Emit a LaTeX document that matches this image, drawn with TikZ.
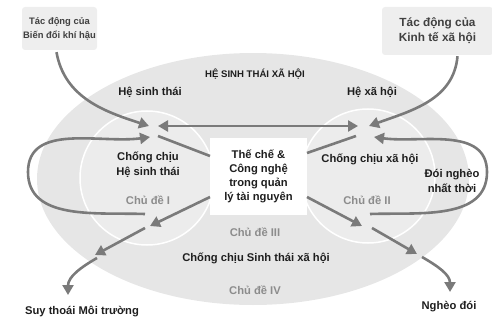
\documentclass[tikz,border=0pt]{standalone}
\usepackage{fontspec}
\setmainfont{Liberation Sans}
\usetikzlibrary{arrows.meta}
\definecolor{arrgray}{HTML}{7A7A7A}
\definecolor{outergray}{HTML}{E6E6E6}
\definecolor{innergray}{HTML}{ECECEC}
\definecolor{boxgray}{HTML}{EEEEEE}
\definecolor{themegray}{HTML}{8C8C8C}
\definecolor{txt}{HTML}{1E1E1E}
\begin{document}
\begin{tikzpicture}[x=1pt, y=-1pt, every node/.style={font=\bfseries\fontsize{11.2}{15}\selectfont, text=txt, align=center, inner sep=0pt},
	arr/.style={draw=arrgray, line width=2.6pt, -{Triangle[length=10pt,width=11pt]}},
	ln/.style={draw=arrgray, line width=2.6pt},
	theme/.style={text=themegray},
	impact/.style={fill=boxgray, rounded corners=3pt, text=txt!85}]
	
	\useasboundingbox (0,0) rectangle (492,326);
	
	\fill[outergray] (253,179) ellipse [x radius=216pt, y radius=126pt];
	\draw[white, line width=1.5pt, fill=innergray] (147,178) circle [radius=67pt];
	\draw[white, line width=1.5pt, fill=innergray] (368,176) circle [radius=67pt];
	
	\node[impact, minimum width=75pt, minimum height=43pt, font=\bfseries\fontsize{9.4}{14}\selectfont] (cc) at (59.5,28.5) {Tác động của\\Biến đổi khí hậu};
	\node[impact, minimum width=111pt, minimum height=48pt, font=\bfseries\fontsize{11.8}{15}\selectfont] (ec) at (437.5,31) {Tác động của\\Kinh tế xã hội};
	
	\node[fill=white, minimum width=97pt, minimum height=77pt, font=\bfseries\fontsize{11.2}{14}\selectfont] (inst) at (258.5,176.5) {Thế chế \&\\Công nghệ\\trong quản\\lý tài nguyên};
	
	\node[font=\bfseries\fontsize{9.6}{11}\selectfont] (ses) at (255,74) {HỆ SINH THÁI XÃ HỘI};
	\node (eco) at (150,92) {Hệ sinh thái};
	\node (soc) at (372,92) {Hệ xã hội};
	\node (reseco) at (148,165) {Chống chịu\\Hệ sinh thái};
	\node (ressoc) at (370,159) {Chống chịu xã hội};
	\node (tpov) at (452,181) {Đói nghèo\\nhất thời};
	\node[theme] (t1) at (148,200) {Chủ đề I};
	\node[theme] (t2) at (367,200) {Chủ đề II};
	\node[theme] (t3) at (255,232) {Chủ đề III};
	\node (resses) at (256,258) {Chống chịu Sinh thái xã hội};
	\node[theme] (t4) at (255,290) {Chủ đề IV};
	\node (deg) at (82,312) {Suy thoái Môi trường};
	\node (pov) at (449,307) {Nghèo đói};
	
	% hubs
	\coordinate (e1) at (149,126);
	\coordinate (e2) at (150,137);
	\coordinate (e3) at (158,126);
	\coordinate (e4) at (158,136);
	\coordinate (e5) at (150,226);
	\coordinate (e6) at (145,228);
	\coordinate (e7) at (145,214);
	\coordinate (s1) at (369,126);
	\coordinate (s2) at (374,137);
	\coordinate (s3) at (358,126);
	\coordinate (s4) at (356,136);
	\coordinate (s5) at (362,226);
	\coordinate (s6) at (372,228);
	\coordinate (s7) at (370,214);
	\coordinate (dl) at (95,255);
	\coordinate (dl2) at (97,258);
	\coordinate (dr) at (417,254);
	\coordinate (dr2) at (422,257);
	\coordinate (lw) at (28,172);
	\coordinate (re) at (487,172);
	\coordinate (i1) at (210,156);
	\coordinate (i2) at (307,153);
	\coordinate (i3) at (210,197);
	\coordinate (i4) at (307,197);
	
	\draw[arr] (cc.south) ++(-3,2) to[out=-80,in=162] (e1);
	\draw[arr] (ec.south) ++(20,1) to[out=-95,in=20] (s1);
	\draw[arr, {Triangle[length=10pt,width=11pt]}-{Triangle[length=10pt,width=11pt]}] (e3) -- (s3);
	\draw[ln] (i1) -- (e4);
	\draw[ln] (i2) -- (s4);
	\draw[arr] (i3) -- (e5);
	\draw[arr] (i4) -- (s5);
	\draw[arr] (e7) to[out=178,in=-90] (lw) to[out=90,in=188] (e2);
	\draw[arr] (s7) to[out=2,in=-90] (re) to[out=90,in=-8] (s2);
	\draw[arr] (e6) -- (dl);
	\draw[arr] (s6) -- (dr);
	\draw[arr] (dl2) to[out=-150,in=90] (68,295);
	\draw[arr] (dr2) to[out=-30,in=90] (450,292);
	
\end{tikzpicture}
\end{document}
